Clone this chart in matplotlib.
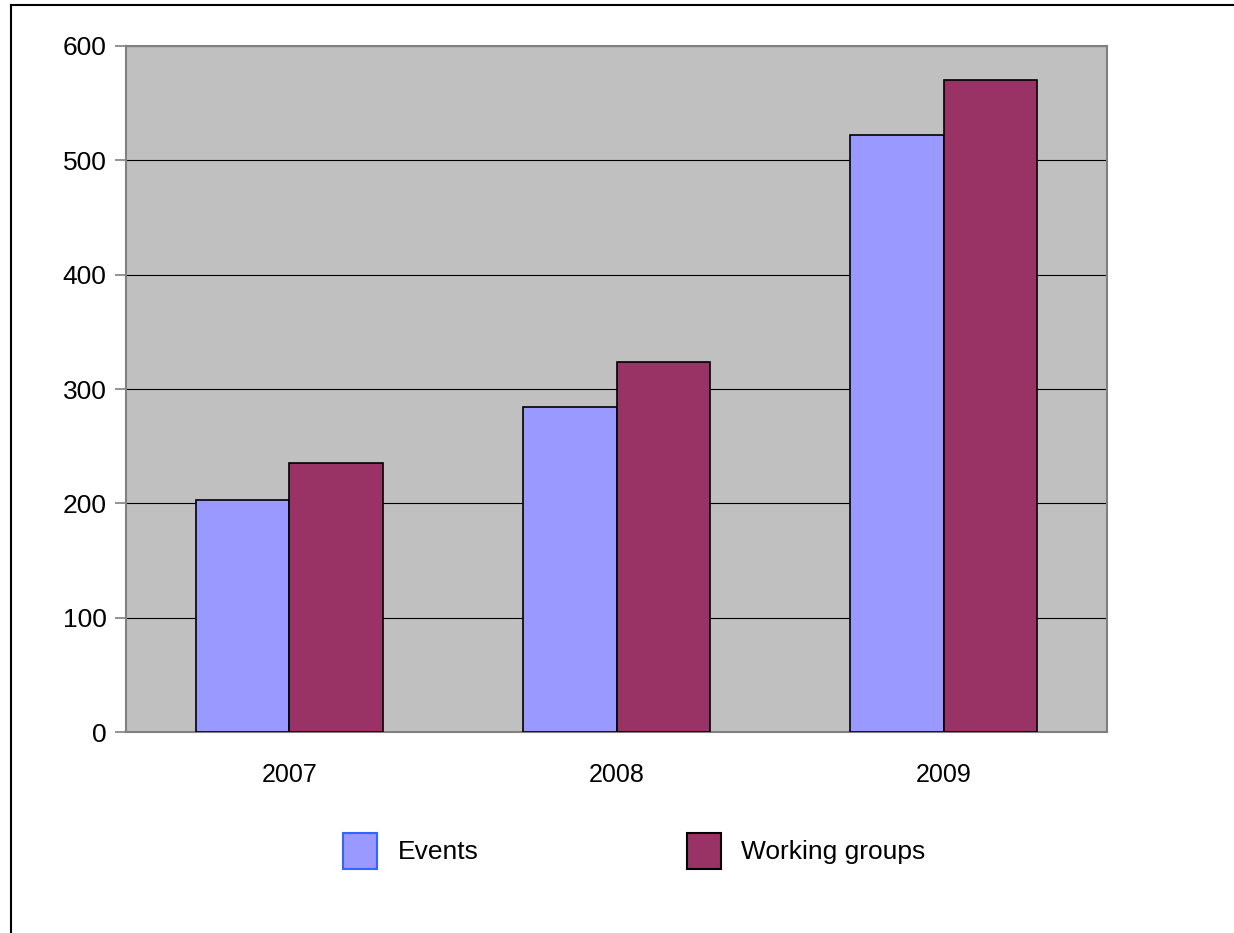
import matplotlib.pyplot as plt
from matplotlib.patches import Patch
from matplotlib.lines import Line2D
import numpy as np

plt.rcParams['font.family'] = ['Liberation Sans', 'DejaVu Sans']

years = ['2007', '2008', '2009']
events = [203, 284, 522]
working_groups = [235, 324, 570]
yticks = [0, 100, 200, 300, 400, 500, 600]

events_color = '#9999FF'
wg_color = '#993366'

fig = plt.figure(figsize=(12.34, 9.33), dpi=100)
ax = fig.add_axes([0.1021, 0.2154, 0.795, 0.7353])
ax.set_facecolor('#C0C0C0')

x = np.arange(len(years))
w = 0.285
ax.bar(x - w / 2, events, w, color=events_color, edgecolor='black', linewidth=1.2, zorder=3)
ax.bar(x + w / 2, working_groups, w, color=wg_color, edgecolor='black', linewidth=1.2, zorder=3)

ax.set_xlim(-0.5, 2.5)
ax.set_ylim(0, 600)
ax.set_yticks(yticks)
ax.set_xticks(x)
ax.set_xticklabels(years)
ax.yaxis.grid(True, color='black', linewidth=0.8, zorder=1)
ax.set_axisbelow(True)

for s in ax.spines.values():
    s.set_color('#808080')
    s.set_linewidth(1.5)

ax.tick_params(axis='y', length=8, width=1.2, color='#808080', labelsize=19, pad=6)
ax.tick_params(axis='x', length=0, labelsize=18, pad=22)

handles = [Patch(facecolor=events_color, edgecolor='#3366FF', linewidth=1.5),
           Patch(facecolor=wg_color, edgecolor='black', linewidth=1.5)]
fig.legend(handles, ['Events', 'Working groups'], loc='center',
           bbox_to_anchor=(0.514, 0.088), ncol=2, frameon=False,
           fontsize=19, handlelength=1.29, handleheight=1.75,
           handletextpad=0.76, columnspacing=7.9)

# outer frame (top and left edges)
fig.add_artist(Line2D([0.0089, 1.0], [0.9946, 0.9946], transform=fig.transFigure, color='black', linewidth=1.5))
fig.add_artist(Line2D([0.0089, 0.0089], [0.0, 0.9946], transform=fig.transFigure, color='black', linewidth=1.5))

fig.savefig('out.png', dpi=100)
